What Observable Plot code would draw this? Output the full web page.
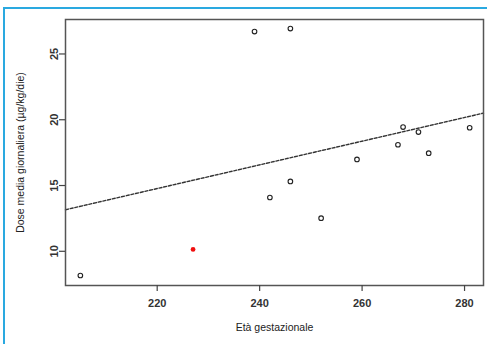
<!DOCTYPE html>
<html>
<head>
<meta charset="utf-8">
<script src="https://cdn.jsdelivr.net/npm/d3@7"></script>
<script src="https://cdn.jsdelivr.net/npm/@observablehq/plot@0.6"></script>
<style>
  html, body { margin: 0; padding: 0; background: #fff; overflow: hidden; }
  #wrap { position: relative; width: 487px; height: 344px; overflow: hidden; }
  #frame { position: absolute; left: 3px; top: 7px; width: 600px; height: 500px;
           border-left: 2px solid #2aa9e0; border-top: 2px solid #2aa9e0; box-sizing: border-box; }
  #chart { position: absolute; left: 0; top: 0; }
</style>
</head>
<body>
<div id="wrap"><div id="frame"></div><div id="chart"></div></div>
<script>
// Data
const gestAge = [205, 227, 239, 246, 242, 246, 252, 259, 267, 268, 271, 273, 281];
const doseMean = [8.16, 10.14, 26.7, 26.93, 14.09, 15.31, 12.52, 16.98, 18.1, 19.44, 19.06, 17.46, 19.39];
const highlighted = [false, true, false, false, false, false, false, false, false, false, false, false, false];
const xTicks = [220, 240, 260, 280];
const yTicks = [10, 15, 20, 25];
const fitIntercept = -5.03;
const fitSlope = 0.09;
const xLabel = "Età gestazionale";
const yLabel = "Dose media giornaliera (µg/kg/die)";

const xDomain = [202.1, 283.7];
const yDomain = [7.4, 27.62];

const points = gestAge.map((x, i) => ({x, y: doseMean[i], red: highlighted[i]}));
const fit = xDomain.map(x => ({x, y: fitIntercept + fitSlope * x}));

const font = "'Liberation Sans', Arial, sans-serif";

const plot = Plot.plot({
  width: 487,
  height: 344,
  marginLeft: 65,
  marginRight: 4,
  marginTop: 19,
  marginBottom: 59,
  style: {fontFamily: font, fontSize: "11px", color: "#222", background: "transparent"},
  x: {domain: xDomain, ticks: xTicks},
  y: {domain: yDomain, ticks: yTicks},
  marks: [
    Plot.line(fit, {x: "x", y: "y", stroke: "#333", strokeWidth: 1.4, strokeDasharray: "3,1.8"}),
    Plot.dot(points.filter(d => !d.red), {x: "x", y: "y", r: 2.3, stroke: "#222", strokeWidth: 1.1, fill: "none"}),
    Plot.dot(points.filter(d => d.red), {x: "x", y: "y", r: 2.4, fill: "#f01010", stroke: "none"}),
    Plot.frame({stroke: "#555", strokeWidth: 1.5}),
    Plot.axisX(xTicks, {tickSize: 6, tickPadding: 8, tickFormat: d => d, fontSize: 11, fontWeight: "bold", fill: "#333", stroke: "#444", strokeWidth: 1.2, label: null}),
    Plot.axisY(yTicks, {tickSize: 6, tickFormat: () => "", stroke: "#444", strokeWidth: 1.2, label: null}),
    Plot.text(yTicks, {y: d => d, text: d => String(d), frameAnchor: "left", dx: -8, rotate: -90, textAnchor: "middle", lineAnchor: "bottom", fontSize: 11, fontWeight: "bold", fill: "#333"}),
    Plot.text([xLabel], {frameAnchor: "bottom", dy: 45, text: d => d, fontSize: 10.5, fill: "#222"}),
    Plot.text([yLabel], {frameAnchor: "left", dx: -45, rotate: -90, textAnchor: "middle", text: d => d, fontSize: 10.5, fill: "#222"})
  ]
});
document.getElementById("chart").appendChild(plot);
</script>
</body>
</html>
